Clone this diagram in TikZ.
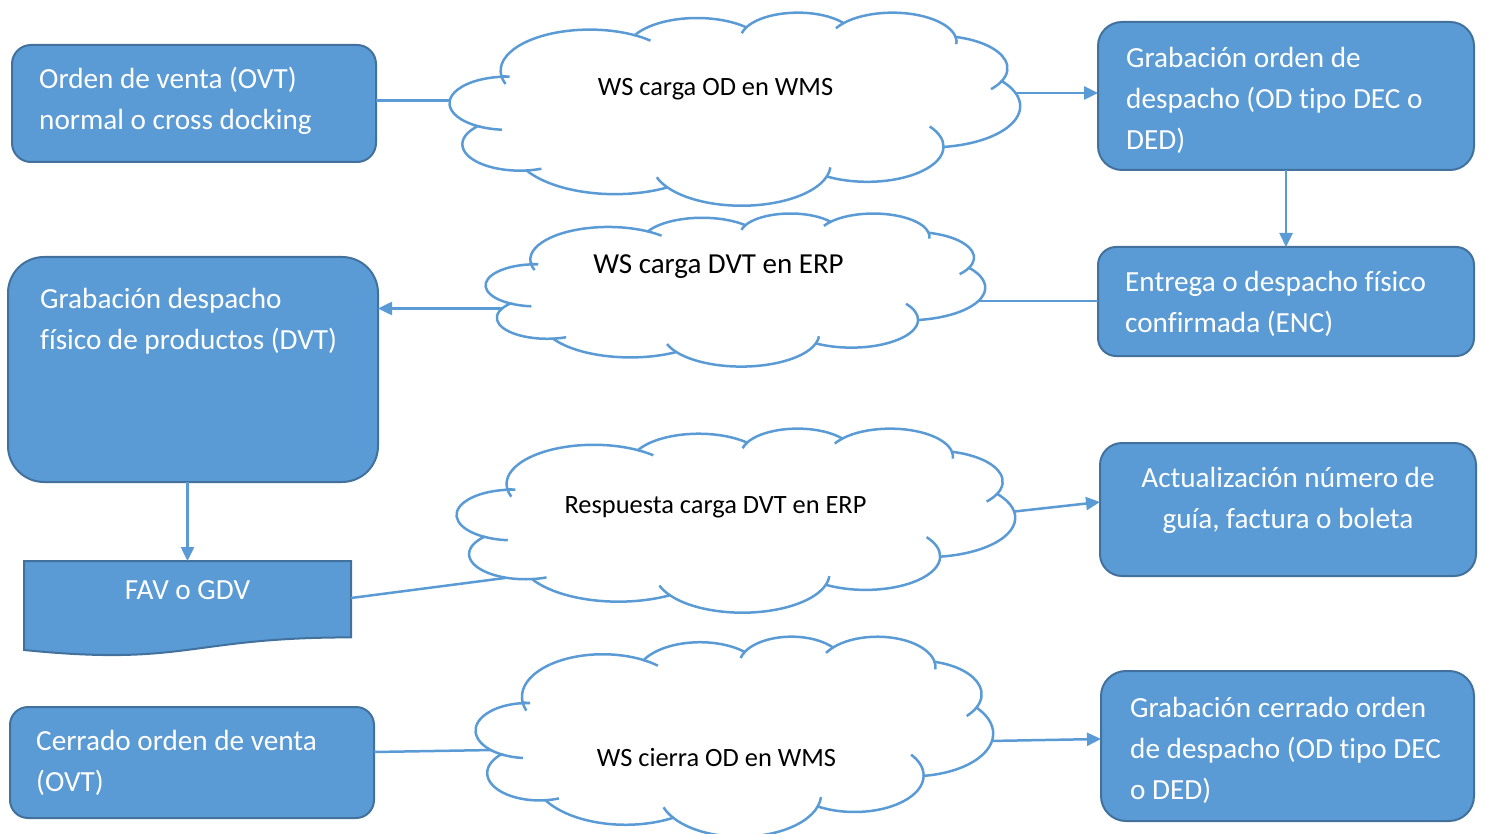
\documentclass[tikz,border=0pt]{standalone}
\usepackage{fontspec}
\setmainfont{Carlito}[Ligatures=NoCommon]
\usetikzlibrary{arrows.meta}
\definecolor{acc}{HTML}{5B9BD5}
\definecolor{accd}{HTML}{41719C}
\newcommand\cin[6]{\draw[cloudline] (#1,#2) ++(#5:#3 and #4) arc[start angle=#5,end angle=#6,x radius=#3,y radius=#4];}
\newcommand\officecloud[4]{%
\begin{scope}[shift={(#1,#2)}]
\begin{scope}[x=1cm,y=1cm,xscale=#3/1229.158,yscale=-#4/1229.158]
\draw[cloudline,fill=white] (3.900,14.370)
 arc[start angle=-187.75,end angle=-59.64,x radius=6.753,y radius=9.190]
 arc[start angle=-152.02,end angle=-45.42,x radius=5.333,y radius=7.267]
 arc[start angle=-153.49,end angle=-37.35,x radius=4.365,y radius=5.945]
 arc[start angle=-139.69,end angle=-10.21,x radius=4.857,y radius=6.595]
 arc[start angle=-74.77,end angle=23.21,x radius=5.333,y radius=7.273]
 arc[start angle=-37.54,end angle=81.86,x radius=6.775,y radius=9.220]
 arc[start angle=0.46,end angle=121.98,x radius=5.785,y radius=7.867]
 arc[start angle=16.84,end angle=146.25,x radius=6.752,y radius=9.215]
 arc[start angle=58.98,end angle=150.19,x radius=7.720,y radius=10.543]
 arc[start angle=83.31,end angle=223.11,x radius=4.360,y radius=5.918]
 arc[start angle=120.36,end angle=272.80,x radius=4.345,y radius=5.945]
 -- cycle;
\cin{4.308}{20.422}{4.345}{5.945}{95}{120.36}
\cin{5.295}{29.595}{4.36}{5.918}{68}{83.31}
\cin{22.094}{34.147}{6.752}{9.215}{146.25}{162}
\cin{22.094}{34.147}{6.752}{9.215}{4}{16.84}
\cin{31.620}{30.144}{5.785}{7.867}{-35}{0.46}
\cin{36.917}{12.596}{5.333}{7.273}{23.21}{40}
\cin{33.538}{6.747}{4.857}{6.595}{-10.21}{4}
\cin{33.538}{6.747}{4.857}{6.595}{-152}{-139.69}
\cin{26.365}{6.089}{4.365}{5.945}{-167}{-153.49}
\cin{10.591}{13.131}{6.753}{9.19}{-59.64}{-47}
\cin{10.591}{13.131}{6.753}{9.19}{-199}{-187.75}
\end{scope}\end{scope}}
\tikzset{
  box/.style={draw=accd,line width=2pt,fill=acc,inner sep=0pt,outer sep=0pt},
  boxtext/.style={text=white,inner sep=0pt,font=\fontsize{29.2}{41}\selectfont},
  cloudtext/.style={text=black,inner sep=0pt,font=\fontsize{26.4}{32}\selectfont},
  cloudtextbig/.style={text=black,inner sep=0pt,font=\fontsize{29}{35}\selectfont},
  conn/.style={draw=acc,line width=2.5pt},
  arr/.style={conn,-{Triangle[length=14pt,width=13pt]}},
  cloudline/.style={draw=acc,line width=2.5pt}
}
\begin{document}
\begin{tikzpicture}[x=1pt,y=-1pt]
\useasboundingbox (0,0) rectangle (1488,834);
% boxes
\node[box,minimum width=364pt,minimum height=117pt,rounded corners=19pt] (A) at (194,103.5) {};
\node[box,minimum width=376pt,minimum height=148pt,rounded corners=24pt] (B) at (1286,96) {};
\node[box,minimum width=376pt,minimum height=109pt,rounded corners=18pt] (C) at (1286,301.5) {};
\node[box,minimum width=370pt,minimum height=225pt,rounded corners=36pt] (D) at (193,369.5) {};
\node[box,minimum width=376pt,minimum height=133pt,rounded corners=22pt] (F) at (1288,509.5) {};
\node[box,minimum width=364pt,minimum height=111pt,rounded corners=18pt] (G) at (192,762.5) {};
\node[box,minimum width=373pt,minimum height=150pt,rounded corners=25pt] (H) at (1287.5,746) {};
\node[inner sep=0pt,outer sep=0pt,minimum width=327pt,minimum height=95.3pt] (E) at (187.5,608.65) {};
\draw[box] (E.north west) -- (E.north east) -- (351,637.4)
  .. controls (187.5,637.4) and (187.5,666.5) .. (24,650) -- cycle;
% box texts
\node[boxtext,anchor=north west,align=left] (tA) at (39,58.5) {\rule{0pt}{30pt}Orden de venta (OVT)\\normal o cross docking};
\node[boxtext,anchor=north west,align=left] (tB) at (1126,37.5) {\rule{0pt}{30pt}Grabación orden de\\despacho (OD tipo DEC o\\DED)};
\node[boxtext,anchor=north west,align=left] (tC) at (1125,261.5) {\rule{0pt}{30pt}Entrega o despacho físico\\confirmada (ENC)};
\node[boxtext,anchor=north west,align=left] (tD) at (40,278.5) {\rule{0pt}{30pt}Grabación despacho\\físico de productos (DVT)};
\node[boxtext,anchor=north,align=center] (tF) at (1288,457.5) {\rule{0pt}{30pt}Actualización número de\\guía, factura o boleta};
\node[boxtext,anchor=north west,align=left] (tG) at (36,720.5) {\rule{0pt}{30pt}Cerrado orden de venta\\(OVT)};
\node[boxtext,anchor=north west,align=left] (tH) at (1130,687.5) {\rule{0pt}{30pt}Grabación cerrado orden\\de despacho (OD tipo DEC\\o DED)};
\node[boxtext,anchor=base] (tE) at (187.5,599.5) {FAV o GDV};
% connector end points on clouds
\coordinate (c1w) at (453,100.5);
\coordinate (c1e) at (1013,93);
\coordinate (c2e) at (975,301);
\coordinate (c2w) at (503,308.5);
\coordinate (e1) at (351,598);
\coordinate (c3w) at (505,578);
\coordinate (c3e) at (1010,512);
\coordinate (c4w) at (494,750);
\coordinate (c4e) at (989,741);
% connectors
\draw[conn] (A.east |- c1w) -- (c1w);
\draw[arr] (c1e) -- (c1e -| B.west);
\draw[arr] (B.south) -- (C.north);
\draw[conn] (C.west |- c2e) -- (c2e);
\draw[arr] (c2w) -- (c2w -| D.east);
\draw[arr] (E.north |- D.south) -- (E.north);
\draw[conn] (e1) -- (c3w);
\draw[arr] (c3e) -- ([yshift=7.5pt]F.west);
\draw[conn] ([yshift=10.5pt]G.east) -- (c4w);
\draw[arr] (c4e) -- ([yshift=7pt]H.west);
% clouds
\officecloud{450}{12}{570}{193}
\officecloud{486}{213}{499}{153}
\officecloud{457}{428}{558}{184}
\officecloud{476}{636}{517}{200}
\node[cloudtext,anchor=base] (t1) at (715.5,96) {WS carga OD en WMS};
\node[cloudtextbig,anchor=base] (t2) at (718.5,274) {WS carga DVT en ERP};
\node[cloudtext,anchor=base] (t3) at (715.5,513) {Respuesta carga DVT en ERP};
\node[cloudtext,anchor=base] (t4) at (716.5,766) {WS cierra OD en WMS};
\end{tikzpicture}
\end{document}
